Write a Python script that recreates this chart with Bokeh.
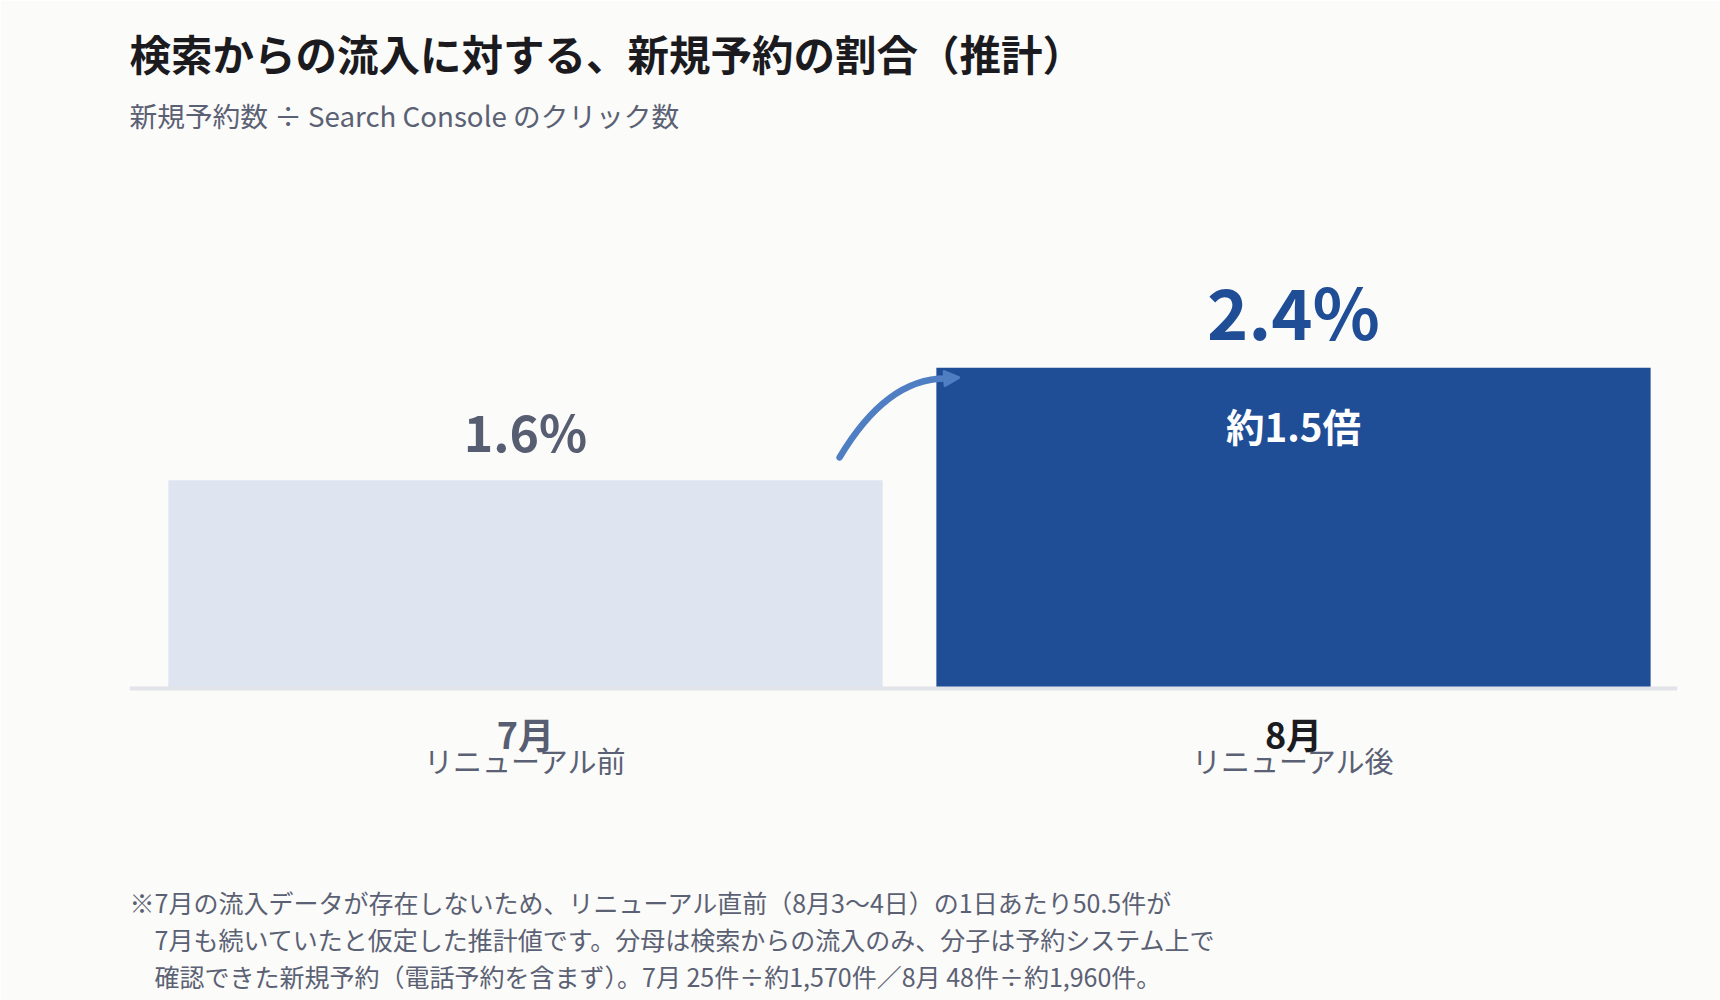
from bokeh.plotting import figure
from bokeh.models import ColumnDataSource, Span, Title, Range1d, Arrow, NormalHead
from bokeh.core.properties import value
from bokeh.embed import file_html
from bokeh.resources import INLINE

FONT = "Noto Sans CJK JP"

title_text = "検索からの流入に対する、新規予約の割合（推計）"
subtitle_text = "新規予約数 ÷ Search Console のクリック数"

months = ["7月", "8月"]
phases = ["リニューアル前", "リニューアル後"]
rates = [1.59, 2.45]          # %
rate_labels = ["1.6%", "2.4%"]
ratio_label = "約1.5倍"

notes = [
    "※7月の流入データが存在しないため、リニューアル直前（8月3〜4日）の1日あたり50.5件が",
    "　7月も続いていたと仮定した推計値です。分母は検索からの流入のみ、分子は予約システム上で",
    "　確認できた新規予約（電話予約を含まず）。7月 25件÷約1,570件／8月 48件÷約1,960件。",
]

# styles
BG = "#fbfbf9"
bar_colors = ["#dee4f0", "#1f4e97"]
label_colors = ["#575e71", "#1f4e97"]
month_colors = ["#575e71", "#1b1c21"]
label_sizes = ["50px", "70px"]
label_offsets = [-50, -58]
ARROW = "#4f7fc2"
GRAY = "#5b6174"
BAR_W = 0.93

xs = list(range(len(months)))
src = ColumnDataSource(dict(
    x=xs, rate=rates, rate_label=rate_labels, month=months, phase=phases,
    bar_color=bar_colors, label_color=label_colors, month_color=month_colors,
    label_size=label_sizes, label_offset=label_offsets,
))

p = figure(width=1720, height=1000, output_backend="svg", toolbar_location=None,
           x_axis_location=None, y_axis_location=None, title=None,
           x_range=Range1d(-0.5156, 1.5), y_range=Range1d(-1.482, 4.186),
           min_border_left=129, min_border_right=43,
           min_border_top=140, min_border_bottom=118)
p.grid.visible = False
p.outline_line_color = None
p.background_fill_color = BG
p.border_fill_color = BG

# baseline
p.add_layout(Span(location=0, dimension="width", line_color="#e2e4ea", line_width=4))

p.vbar(x="x", top="rate", width=BAR_W, bottom=0, source=src,
       fill_color="bar_color", line_color=None)

# value labels above the bars
p.text(x="x", y="rate", text="rate_label", source=src, text_font=value(FONT),
       text_font_style="bold", text_font_size="label_size", text_color="label_color",
       text_align="center", text_baseline="middle", y_offset="label_offset")

# ratio inside the 2nd bar
p.text(x=[xs[1]], y=[rates[1]], text=[ratio_label], text_font=value(FONT),
       text_font_style="bold", text_font_size="38.5px", text_color="white",
       text_align="center", text_baseline="middle", y_offset=57)

# category labels under the baseline
p.text(x="x", y=0, text="month", source=src, text_font=value(FONT),
       text_font_style="bold", text_font_size="36px", text_color="month_color",
       text_align="center", text_baseline="middle", y_offset=45)
p.text(x="x", y=0, text="phase", source=src, text_font=value(FONT),
       text_font_size="29px", text_color=GRAY,
       text_align="center", text_baseline="middle", y_offset=72)

# curved arrow from bar 1 to bar 2
half = BAR_W / 2
sx, sy = xs[0] + half - 0.056, rates[0] + 0.175
ex, ey = xs[1] - half + 0.012, rates[1] - 0.082
cx, cy = xs[0] + half + 0.005, ey
tx, ty = xs[1] - half + 0.029, rates[1] - 0.075
p.quadratic(x0=sx, y0=sy, x1=ex, y1=ey, cx=cx, cy=cy,
            line_color=ARROW, line_width=6.5, line_cap="round")
p.add_layout(Arrow(end=NormalHead(size=14, fill_color=ARROW, line_color=ARROW,
                                  line_width=3, line_join="round"),
                   x_start=ex, y_start=ey, x_end=tx, y_end=ty,
                   line_color=ARROW, line_width=6.5))

# titles
p.add_layout(Title(text=subtitle_text, text_font=FONT, text_font_size="27.7px",
                   text_font_style="normal", text_color=GRAY, align="left",
                   standoff=12), "above")
p.add_layout(Title(text=title_text, text_font=FONT, text_font_size="41.5px",
                   text_font_style="bold", text_color="#1b1b1f", align="left",
                   standoff=8), "above")

# footnote
for line in notes:
    p.add_layout(Title(text=line, text_font=FONT, text_font_size="25px",
                       text_font_style="normal", text_color=GRAY, align="left",
                       standoff=-1), "below")

open("out.html", "w").write(file_html(p, INLINE))
